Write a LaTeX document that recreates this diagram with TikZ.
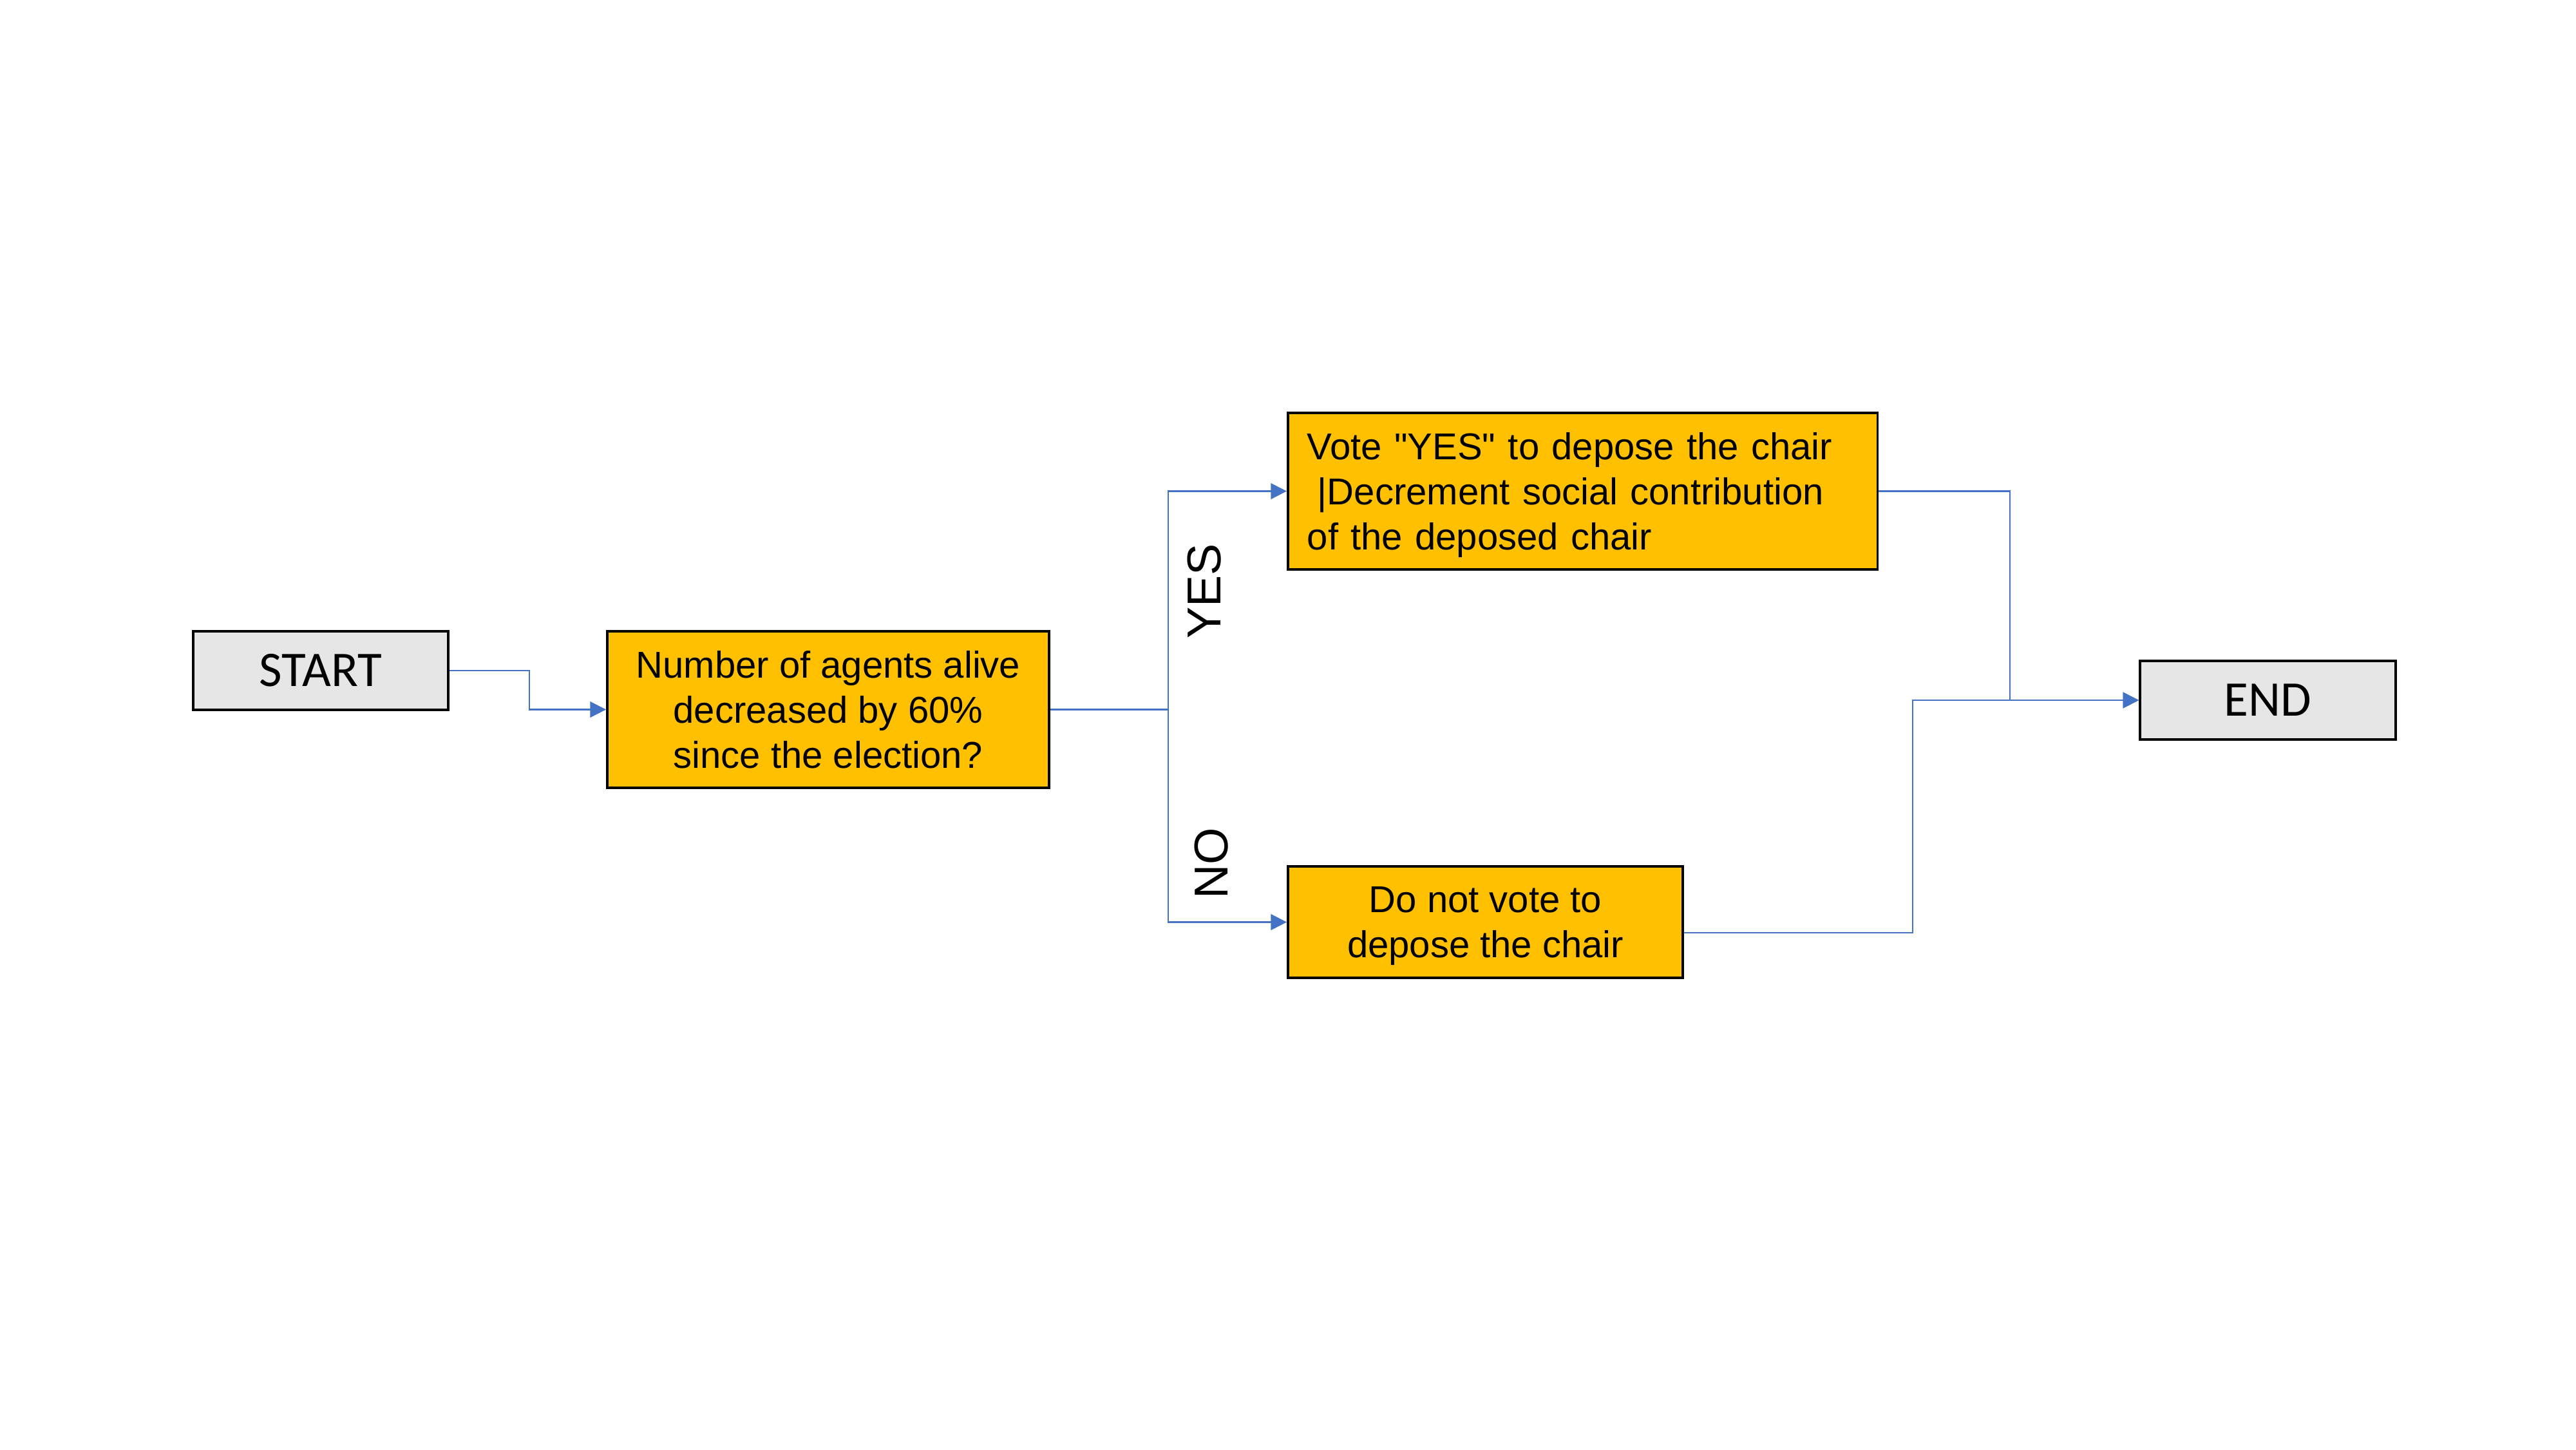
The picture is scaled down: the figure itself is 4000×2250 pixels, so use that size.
\documentclass[tikz,border=0pt]{standalone}
\usepackage{fontspec}
\setmainfont{Liberation Sans}[Ligatures=TeXOff]
\newfontfamily\calib{Carlito}
\usetikzlibrary{arrows.meta,calc}
\definecolor{boxorange}{HTML}{FFC000}
\definecolor{boxgray}{HTML}{E7E6E6}
\definecolor{connblue}{HTML}{4472C4}
\tikzset{
  termbox/.style={draw=black, line width=1pt, fill=boxgray, inner sep=0pt,
    minimum width=3.96cm, minimum height=1.22cm, font=\calib\fontsize{22}{26}\selectfont},
  procbox/.style={draw=black, line width=1pt, fill=boxorange, inner sep=0pt,
    font=\fontsize{16.5}{19.9}\selectfont},
  branchlabel/.style={rotate=90, inner sep=0pt, font=\fontsize{21}{25}\selectfont},
  conn/.style={draw=connblue, line width=0.6pt},
  arr/.style={conn, -{Triangle[length=7pt,width=7pt]}}
}
\begin{document}
\begin{tikzpicture}[x=0.01cm,y=-0.01cm]
\useasboundingbox (0,0) rectangle (4000,2250);
\node[termbox] (start) at (498,1041) {START};
\node[procbox, minimum width=6.86cm, minimum height=2.43cm, align=center] (dec) at (1286,1101.5)
  {Number of agents alive\\decreased by 60\%\\since the election?};
\node[procbox, minimum width=9.15cm, minimum height=2.43cm, inner xsep=0.3cm, text width=8.55cm, text depth=1.399cm, align=left] (yes) at (2457.5,762.5)
  {Vote "YES" to depose the chair\\\hspace*{0.278em}|Decrement social contribution\\of the deposed chair};
\node[procbox, minimum width=6.13cm, minimum height=1.73cm, text depth=0pt, align=center] (no) at (2306.5,1431.5)
  {Do not vote to\\depose the chair};
\node[termbox, minimum width=3.97cm] (end) at (3521.5,1087) {END};
\node[branchlabel] (ylab) at (1870,918) {YES};
\node[branchlabel] (nlab) at (1881,1340) {NO};
\coordinate (br) at (1814,1101.5);
\draw[arr] (start.east) -- ++(124,0) |- (dec.west);
\draw[conn] (dec.east) -- (br);
\draw[arr] (br) |- (yes.west);
\draw[arr] (br) |- (no.west);
\draw[arr] (yes.east) -- ++(204,0) |- (end.west);
\draw[arr] ($(no.east)+(0,16.5)$) -- ++(355,0) |- (end.west);
\end{tikzpicture}
\end{document}
